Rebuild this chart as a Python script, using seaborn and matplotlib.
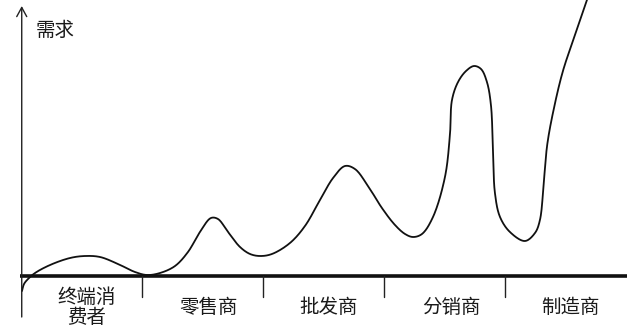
import numpy as np
import pandas as pd
import matplotlib
matplotlib.use("Agg")
import matplotlib.pyplot as plt
import seaborn as sns

# Supply-chain stages along the horizontal axis
stages = ["终端消\n费者", "零售商", "批发商", "分销商", "制造商"]
stage_label_x = [0.545, 1.554, 2.545, 3.554, 4.545]
y_label = "需求"

# Demand curve samples (stage position, demand level)
curve_x = [0.008, 0.025, 0.058, 0.116, 0.240, 0.405, 0.529, 0.653, 0.802, 0.942,
           1.041, 1.149, 1.273, 1.380, 1.479, 1.570, 1.628, 1.711, 1.810, 1.893,
           1.975, 2.074, 2.223, 2.347, 2.471, 2.579, 2.678, 2.760, 2.868, 2.983,
           3.091, 3.174, 3.240, 3.314, 3.405, 3.504, 3.545, 3.562, 3.612, 3.678,
           3.744, 3.802, 3.851, 3.884, 3.901, 3.917, 3.959, 4.041, 4.165, 4.248,
           4.289, 4.322, 4.350, 4.405, 4.479, 4.570, 4.686]
curve_y = [-1.5, -0.8, -0.3, 0.3, 1.1, 1.8, 2.0, 1.9, 1.2, 0.4,
           0.1, 0.3, 1.0, 2.4, 4.4, 5.8, 5.7, 4.4, 2.9, 2.2,
           2.0, 2.2, 3.3, 5.0, 7.6, 9.8, 11.0, 10.7, 9.0, 6.8,
           5.1, 4.2, 3.9, 4.2, 5.9, 9.9, 14.1, 17.6, 19.4, 20.5,
           21.0, 20.7, 19.4, 17.1, 12.6, 8.3, 5.9, 4.4, 3.5, 4.3,
           5.6, 9.6, 13.2, 16.8, 20.5, 23.8, 27.9]


def catmull_rom(xs, ys, sx=12.1, sy=1.0, n=20):
    """Centripetal Catmull-Rom smoothing through the sample points."""
    P = np.column_stack([np.asarray(xs) * sx, np.asarray(ys) * sy])
    P = np.vstack([2 * P[0] - P[1], P, 2 * P[-1] - P[-2]])
    out = []
    for i in range(1, len(P) - 2):
        p0, p1, p2, p3 = P[i - 1], P[i], P[i + 1], P[i + 2]
        t0 = 0.0
        t1 = t0 + np.linalg.norm(p1 - p0) ** 0.5
        t2 = t1 + np.linalg.norm(p2 - p1) ** 0.5
        t3 = t2 + np.linalg.norm(p3 - p2) ** 0.5
        t = np.linspace(t1, t2, n, endpoint=False)[:, None]
        a1 = (t1 - t) / (t1 - t0) * p0 + (t - t0) / (t1 - t0) * p1
        a2 = (t2 - t) / (t2 - t1) * p1 + (t - t1) / (t2 - t1) * p2
        a3 = (t3 - t) / (t3 - t2) * p2 + (t - t2) / (t3 - t2) * p3
        b1 = (t2 - t) / (t2 - t0) * a1 + (t - t0) / (t2 - t0) * a2
        b2 = (t3 - t) / (t3 - t1) * a2 + (t - t1) / (t3 - t1) * a3
        c = (t2 - t) / (t2 - t1) * b1 + (t - t1) / (t2 - t1) * b2
        out.append(c)
    out.append(P[-2][None, :])
    pts = np.vstack(out)
    return pts[:, 0] / sx, pts[:, 1] / sy


sns.set_theme(style="white")
plt.rcParams["font.family"] = ["Noto Sans CJK SC", "DejaVu Sans"]

fig = plt.figure(figsize=(6.4, 3.27), dpi=100)
ax = fig.add_axes([0, 0, 1, 1])
ax.set_xlim(-0.1736, 5.116)
ax.set_ylim(-5.1, 27.6)
ax.axis("off")

sx, sy = catmull_rom(curve_x, curve_y)
df = pd.DataFrame({"stage": sx, "demand": sy})
sns.lineplot(data=df, x="stage", y="demand", sort=False, estimator=None,
             color="#111111", linewidth=1.3, ax=ax)

# Vertical demand axis with an open arrow head
ax.annotate("", xy=(0.006, 27.0), xytext=(0.006, -4.1),
            arrowprops=dict(arrowstyle="->,head_length=0.55,head_width=0.3",
                            color="#222222", lw=1.0, shrinkA=0, shrinkB=0))

# Horizontal axis and stage separators
n = len(stages)
ax.plot([-0.008, n + 0.008], [0, 0], color="#111111", lw=2.6,
        solid_capstyle="butt")
for b in np.arange(1, n):
    ax.plot([b, b], [0, -2.1], color="#222222", lw=1.0)

for xpos, lab in zip(stage_label_x, stages):
    ax.text(xpos, -3.15, lab, ha="center", va="center", fontsize=14,
            color="#1a1a1a", linespacing=0.95)

ax.text(0.281, 24.6, y_label, ha="center", va="center", fontsize=14,
        color="#1a1a1a")

fig.savefig("out.png", dpi=100)
